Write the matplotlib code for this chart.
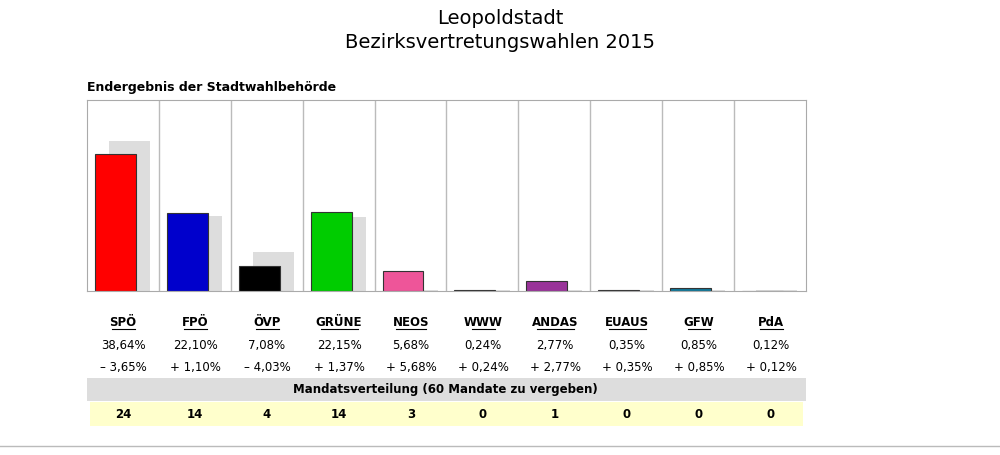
import matplotlib
matplotlib.use("Agg")
import matplotlib.pyplot as plt
from matplotlib.patches import Rectangle

parties = ["SPÖ", "FPÖ", "ÖVP", "GRÜNE", "NEOS", "WWW", "ANDAS", "EUAUS", "GFW", "PdA"]
votes = [38.64, 22.10, 7.08, 22.15, 5.68, 0.24, 2.77, 0.35, 0.85, 0.12]
diffs = [-3.65, 1.10, -4.03, 1.37, 5.68, 0.24, 2.77, 0.35, 0.85, 0.12]
seats = [24, 14, 4, 14, 3, 0, 1, 0, 0, 0]
colors = ["#ff0000", "#0000cc", "#000000", "#00cc00", "#ee5599", "#999999",
          "#993399", "#993399", "#117799", "#660066"]
prev = [v - d for v, d in zip(votes, diffs)]

W, H = 1000, 455
fig = plt.figure(figsize=(10, 4.55), dpi=100)
fig.patch.set_facecolor("white")
ax = fig.add_axes([87/W, (H-291)/H, 719/W, 191/H])
n = len(parties)
for i in range(n):
    ax.bar(i + 0.31, max(prev[i], 0.3), width=0.57, align="edge", color="#dddddd", zorder=1)
    ax.bar(i + 0.11, votes[i], width=0.57, align="edge", color=colors[i],
           edgecolor="#333333", linewidth=0.8, zorder=2)
    if i > 0:
        ax.axvline(i, color="#bbbbbb", lw=1, zorder=0)
ax.set_xlim(0, n)
ax.set_ylim(0, 53.8)
ax.set_xticks([]); ax.set_yticks([])
for s in ax.spines.values():
    s.set_color("#aaaaaa")

def fy(y):
    return 1 - y / H

fig.text(0.5, fy(18), "Leopoldstadt", ha="center", va="center", fontsize=14)
fig.text(0.5, fy(43), "Bezirksvertretungswahlen 2015", ha="center", va="center", fontsize=14)
fig.text(87/W, fy(88), "Endergebnis der Stadtwahlbehörde", ha="left", va="center",
         fontsize=9, fontweight="bold")

def fmt(v):
    return f"{v:.2f}".replace(".", ",") + "%"

for i in range(n):
    x = (87 + 72 * (i + 0.5)) / W
    t = fig.text(x, fy(322), parties[i], ha="center", va="center", fontsize=8.5, fontweight="bold")
    fig.text(x, fy(346), fmt(votes[i]), ha="center", va="center", fontsize=8.5)
    sign = "–" if diffs[i] < 0 else "+"
    fig.text(x, fy(367), f"{sign} {fmt(abs(diffs[i]))}", ha="center", va="center", fontsize=8.5)
    fig.text(x, fy(414), str(seats[i]), ha="center", va="center", fontsize=8.5, fontweight="bold")
    # underline
    wpx = 7 * len(parties[i]) + 2
    fig.add_artist(plt.Line2D([x - wpx/2/W, x + wpx/2/W], [fy(329), fy(329)], color="black", lw=0.8))

fig.add_artist(Rectangle((87/W, fy(401)), 719/W, 23/H, facecolor="#dddddd", edgecolor="none"))
fig.text(0.445, fy(389), "Mandatsverteilung (60 Mandate zu vergeben)", ha="center", va="center",
         fontsize=8.5, fontweight="bold")
fig.add_artist(Rectangle((90/W, fy(426)), 713/W, 24/H, facecolor="#ffffcc", edgecolor="none", zorder=-1))
fig.add_artist(plt.Line2D([0, 1], [fy(446), fy(446)], color="#bbbbbb", lw=1))

fig.savefig("out.png", dpi=100)
